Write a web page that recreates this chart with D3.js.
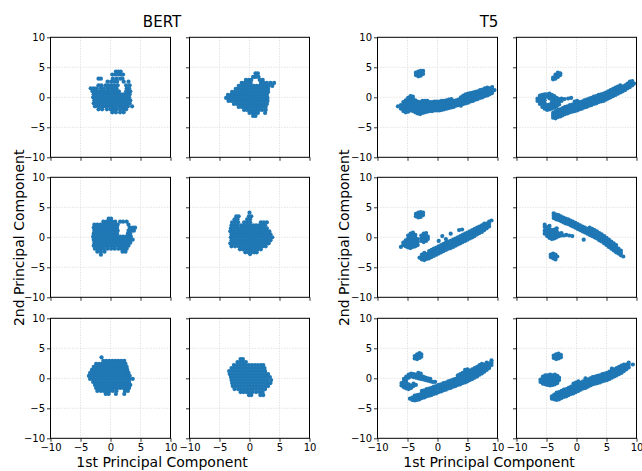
<!DOCTYPE html>
<html>
<head>
<meta charset="utf-8">
<script src="https://cdn.jsdelivr.net/npm/d3@7"></script>
<style>
  body { margin: 0; background: #fff; }
  text { font-family: "DejaVu Sans", sans-serif; }
</style>
</head>
<body>
<svg id="chart" width="642" height="471"></svg>
<script>
// axis ticks shared by every subplot
const ticks = [-10, -5, 0, 5, 10];
const groupTitles = ["BERT", "T5"];
const xLabel = "1st Principal Component";
const yLabel = "2nd Principal Component";

// BERT clouds, read row by row: [y, [x, x, ...]]
const bertL1 = [
  [4.3, [0.9, 1.3, 1.7]],
  [3.8, [0.3, 0.8, 1.3, 1.8, 2.1]],
  [3.1, [-2.0, -1.6, 0.4, 1.0, 1.6, 2.0]],
  [2.6, [-0.5, 0.1, 0.6, 1.1, 2.2, 3.0]],
  [2.0, [-2.0, -1.5, -0.8, -0.3, 0.2, 0.7, 1.2, 2.6, 3.2]],
  [1.5, [-3.3, -2.8, -2.3, -1.6, -1.1, -0.5, 0.0, 0.5, 1.0, 2.7, 3.1]],
  [1.0, [-3.0, -2.5, -2.0, -1.5, -1.0, -0.5, 0.0, 0.5, 1.0, 1.4, 2.6, 3.0, 3.3]],
  [0.5, [-2.8, -2.3, -1.8, -1.3, -0.8, -0.3, 0.2, 0.7, 1.2, 1.7, 2.2, 2.7, 3.2]],
  [0.0, [-2.9, -2.4, -1.9, -1.4, -0.9, -0.4, 0.1, 0.6, 1.1, 1.6, 2.1, 2.6, 3.1]],
  [-0.5, [-2.7, -2.2, -1.7, -1.2, -0.7, -0.2, 0.3, 0.8, 1.3, 1.8, 2.3, 2.8, 3.3]],
  [-1.0, [-2.8, -2.3, -1.8, -1.3, -0.8, -0.3, 0.2, 0.7, 1.2, 1.7, 2.2, 2.7, 3.2]],
  [-1.5, [-2.6, -2.1, -1.6, -1.1, -0.6, -0.1, 0.4, 0.9, 1.4, 1.9, 2.4, 2.9, 3.6]],
  [-2.0, [-2.0, -1.4, -0.6, 0.0, 0.5, 1.0, 1.6, 2.1, 2.6]],
  [-2.5, [0.3, 0.9, 1.6, 2.2]]
];
const bertR1 = [
  [4.0, [1.0, 1.4]],
  [3.4, [0.6, 1.0, 1.5]],
  [2.9, [-0.6, -0.1, 0.3, 1.7, 2.2]],
  [2.4, [-1.3, -0.8, -0.3, 0.2, 1.9, 2.4, 2.9, 3.5, 4.1]],
  [1.9, [-1.8, -1.3, -0.8, -0.3, 0.2, 0.7, 1.2, 1.7, 2.2, 2.7, 3.2, 3.8]],
  [1.4, [-2.3, -1.8, -1.3, -0.8, -0.3, 0.2, 0.7, 1.2, 1.7, 2.2, 2.7, 3.1]],
  [0.9, [-2.9, -2.4, -1.9, -1.4, -0.9, -0.4, 0.1, 0.6, 1.1, 1.6, 2.1, 2.6, 3.1]],
  [0.4, [-3.6, -3.1, -2.6, -2.1, -1.6, -1.1, -0.6, -0.1, 0.4, 0.9, 1.4, 1.9, 2.4, 2.9]],
  [-0.1, [-3.9, -3.4, -2.9, -2.4, -1.9, -1.4, -0.9, -0.4, 0.1, 0.6, 1.1, 1.6, 2.1, 2.6, 3.0]],
  [-0.6, [-3.5, -3.0, -2.5, -2.0, -1.5, -1.0, -0.5, 0.0, 0.5, 1.0, 1.5, 2.0, 2.5, 3.0]],
  [-1.1, [-2.6, -2.1, -1.6, -1.1, -0.6, -0.1, 0.4, 0.9, 1.4, 1.9, 2.4, 2.9]],
  [-1.6, [-1.8, -1.3, -0.8, -0.3, 0.2, 0.7, 1.2, 1.7, 2.2, 2.7]],
  [-2.1, [-0.9, -0.4, 0.1, 0.6, 1.1, 1.6, 2.1, 2.7]],
  [-2.6, [0.0, 0.5, 0.9, 1.4, 2.6]],
  [-3.1, [0.6, 1.0]]
];
const bertL2 = [
  [3.1, [-0.3, 0.1]],
  [2.6, [-1.2, -0.7, -0.2, 0.3, 0.8, 1.6, 2.1, 2.7]],
  [2.1, [-2.7, -2.2, -1.7, -1.2, -0.7, -0.2, 0.3, 0.8, 1.2, 3.0]],
  [1.6, [-2.8, -2.3, -1.8, -1.3, -0.8, -0.3, 0.2, 0.7, 1.1, 3.2, 3.7, 4.1]],
  [1.1, [-2.7, -2.2, -1.7, -1.2, -0.7, -0.2, 0.3, 0.8, 1.2, 3.0, 3.5, 3.9]],
  [0.6, [-2.8, -2.3, -1.8, -1.3, -0.8, -0.3, 0.2, 0.7, 1.1, 2.9, 3.3]],
  [0.1, [-2.9, -2.4, -1.9, -1.4, -0.9, -0.4, 0.1, 0.6, 1.1, 1.6, 2.1, 2.6, 3.0, 3.4]],
  [-0.4, [-2.8, -2.3, -1.8, -1.3, -0.8, -0.3, 0.2, 0.7, 1.2, 1.7, 2.2, 2.7, 3.2, 3.7]],
  [-0.9, [-2.7, -2.2, -1.7, -1.2, -0.7, -0.2, 0.3, 0.8, 1.3, 1.8, 2.3, 2.8, 3.3]],
  [-1.4, [-2.8, -2.3, -1.8, -1.3, -0.8, -0.3, 0.2, 0.7, 1.2, 1.7, 2.2, 2.6, 3.0]],
  [-1.9, [-2.6, -2.1, -1.6, -1.1, -0.5, 0.1, 0.7, 1.3, 1.8, 2.3, 2.7]],
  [-2.4, [-2.2, -1.6, -1.0, 2.0, 2.5]],
  [-2.9, [-1.6]]
];
const bertR2 = [
  [4.1, [0.0]],
  [3.5, [-2.2, -1.8, -0.1, 0.3]],
  [3.0, [-2.5, -2.0, -0.4, 0.1]],
  [2.5, [-2.9, -2.4, -1.9, -0.9, -0.4, 0.1, 1.9, 2.4, 2.9]],
  [2.0, [-3.0, -2.5, -2.0, -1.4, -0.9, -0.4, 0.1, 0.6, 1.1, 1.6, 2.1, 2.6]],
  [1.5, [-3.1, -2.6, -2.1, -1.6, -1.1, -0.6, -0.1, 0.4, 0.9, 1.4, 1.9, 2.4, 2.9]],
  [1.0, [-3.2, -2.7, -2.2, -1.7, -1.2, -0.7, -0.2, 0.3, 0.8, 1.3, 1.8, 2.3, 2.8, 3.3]],
  [0.5, [-3.0, -2.5, -2.0, -1.5, -1.0, -0.5, 0.0, 0.5, 1.0, 1.5, 2.0, 2.5, 3.0, 3.5]],
  [0.0, [-3.1, -2.6, -2.1, -1.6, -1.1, -0.6, -0.1, 0.4, 0.9, 1.4, 1.9, 2.4, 2.9, 3.4, 3.8]],
  [-0.5, [-3.0, -2.5, -2.0, -1.5, -1.0, -0.5, 0.0, 0.5, 1.0, 1.5, 2.0, 2.5, 3.0, 3.5]],
  [-1.0, [-3.2, -2.7, -2.2, -1.7, -1.2, -0.7, -0.2, 0.3, 0.8, 1.3, 1.8, 2.3, 2.8, 3.2]],
  [-1.5, [-3.0, -2.4, -1.8, -1.3, -0.8, -0.3, 0.2, 0.7, 1.2, 1.7, 2.2, 2.7]],
  [-2.0, [-1.6, -1.1, -0.6, -0.1, 0.4, 0.9, 1.4, 1.9]],
  [-2.5, [-0.7, -0.2, 0.3, 0.8, 1.2]],
  [-2.8, [0.1]]
];
const bertL3 = [
  [3.5, [-1.5]],
  [2.9, [-1.2, -0.7, -0.2, 0.3, 0.8, 1.3, 1.8, 2.3]],
  [2.4, [-2.4, -1.9, -1.4, -0.9, -0.4, 0.1, 0.6, 1.1, 1.6, 2.1, 2.5]],
  [1.9, [-2.8, -2.3, -1.8, -1.3, -0.8, -0.3, 0.2, 0.7, 1.2, 1.7, 2.2, 2.7]],
  [1.4, [-3.1, -2.6, -2.1, -1.6, -1.1, -0.6, -0.1, 0.4, 0.9, 1.4, 1.9, 2.4, 2.8]],
  [0.9, [-3.4, -2.9, -2.4, -1.9, -1.4, -0.9, -0.4, 0.1, 0.6, 1.1, 1.6, 2.1, 2.6, 3.0]],
  [0.4, [-3.6, -3.1, -2.6, -2.1, -1.6, -1.1, -0.6, -0.1, 0.4, 0.9, 1.4, 1.9, 2.4, 2.9, 3.2]],
  [-0.1, [-3.4, -2.9, -2.4, -1.9, -1.4, -0.9, -0.4, 0.1, 0.6, 1.1, 1.6, 2.1, 2.6, 3.1, 3.7]],
  [-0.6, [-2.9, -2.4, -1.9, -1.4, -0.9, -0.4, 0.1, 0.6, 1.1, 1.6, 2.1, 2.6, 3.1]],
  [-1.1, [-2.6, -2.1, -1.6, -1.1, -0.6, -0.1, 0.4, 0.9, 1.4, 1.9, 2.4, 2.9, 3.3]],
  [-1.6, [-2.4, -1.9, -1.4, -0.9, -0.4, 0.1, 0.6, 1.1, 1.6, 2.1, 2.6, 3.1]],
  [-2.1, [-2.2, -1.6, -1.1, -0.6, -0.1, 0.4, 1.0, 2.4, 2.9]],
  [-2.6, [-0.8, -0.3, 0.9, 2.3]]
];
const bertR3 = [
  [3.2, [-1.5, -1.1]],
  [2.7, [-2.0, -1.5, -1.0, -0.6]],
  [2.2, [-2.6, -2.1, -1.6, -1.1, -0.6, -0.1, 0.4, 0.9, 1.4, 1.9, 2.3]],
  [1.7, [-3.0, -2.5, -2.0, -1.5, -1.0, -0.5, 0.0, 0.5, 1.0, 1.5, 2.0, 2.5]],
  [1.2, [-3.4, -2.9, -2.4, -1.9, -1.4, -0.9, -0.4, 0.1, 0.6, 1.1, 1.6, 2.1, 2.6]],
  [0.7, [-3.3, -2.8, -2.3, -1.8, -1.3, -0.8, -0.3, 0.2, 0.7, 1.2, 1.7, 2.2, 2.7, 3.1]],
  [0.2, [-3.1, -2.6, -2.1, -1.6, -1.1, -0.6, -0.1, 0.4, 0.9, 1.4, 1.9, 2.4, 2.9, 3.4]],
  [-0.3, [-3.0, -2.5, -2.0, -1.5, -1.0, -0.5, 0.0, 0.5, 1.0, 1.5, 2.0, 2.5, 3.0, 3.6]],
  [-0.8, [-2.9, -2.4, -1.9, -1.4, -0.9, -0.4, 0.1, 0.6, 1.1, 1.6, 2.1, 2.6, 3.1, 3.5]],
  [-1.3, [-2.8, -2.3, -1.8, -1.3, -0.8, -0.3, 0.2, 0.7, 1.2, 1.7, 2.2, 2.7, 3.1]],
  [-1.8, [-2.5, -1.9, -1.4, -0.9, -0.4, 0.1, 0.6, 1.1, 1.6, 2.1, 2.6]],
  [-2.3, [-1.5, -1.0, -0.5, 0.0, 0.5, 1.1, 1.7, 2.2]],
  [-2.8, [-0.1, 0.3, 1.8, 2.3]]
];

// T5 clouds, read column by column: [x, [y, y, ...]]
const t5L1 = [
  [-3.6, [3.7, 4.1]], [-3.2, [3.5, 3.9, 4.3]], [-2.8, [3.6, 4.0, 4.4]], [-2.4, [3.9, 4.4]],
  [-6.6, [-1.5]], [-6.1, [-1.9, -1.3]], [-5.7, [-2.3, -1.8, -1.3, -0.8]],
  [-5.3, [-2.5, -2.0, -1.5, -1.0, -0.5]], [-4.9, [-2.4, -1.9, -1.4, -0.9, -0.4, -0.1]],
  [-4.5, [-2.2, -1.7, -1.2, -0.7, -0.2, 0.2]], [-4.1, [-2.3, -1.8, -1.3, -0.8, -0.3, 0.1]],
  [-3.7, [-2.5, -2.0, -1.5, -1.0, -0.5]], [-3.3, [-2.7, -2.2, -1.7, -1.2, -0.7]],
  [-2.9, [-2.8, -2.3, -1.8, -1.3, -0.8]], [-2.5, [-2.6, -2.1, -1.6, -1.1, -0.6]],
  [-2.1, [-2.5, -2.0, -1.5, -1.0, -0.6]], [-1.7, [-2.4, -1.9, -1.4, -0.9, -0.6]],
  [-1.3, [-2.3, -1.8, -1.3, -0.8]], [-0.9, [-2.3, -1.8, -1.3, -0.8]],
  [-0.5, [-2.2, -1.7, -1.2, -0.7]], [-0.1, [-2.2, -1.7, -1.2, -0.7]],
  [0.3, [-2.2, -1.7, -1.2, -0.7]], [0.7, [-2.1, -1.6, -1.1, -0.6]],
  [1.1, [-2.0, -1.5, -1.0, -0.6]], [1.5, [-1.9, -1.4, -0.9, -0.5]],
  [1.9, [-1.8, -1.3, -0.8, -0.4]], [2.3, [-1.7, -1.2, -0.7, -0.3]],
  [2.7, [-1.6, -1.1, -0.6]], [3.1, [-1.4, -1.0, -0.5]],
  [3.5, [-1.3, -0.9, -0.4]], [3.9, [-1.4, -1.0, -0.5, 0.0]],
  [4.3, [-1.1, -0.6, -0.1, 0.3]], [4.7, [-1.0, -0.5, 0.0, 0.5]],
  [5.1, [-0.9, -0.4, 0.1, 0.6]], [5.5, [-0.7, -0.2, 0.3, 0.7]],
  [5.9, [-0.6, -0.1, 0.4, 0.8]], [6.3, [-0.4, 0.1, 0.6, 0.9]],
  [6.7, [-0.3, 0.2, 0.7, 1.0]], [7.1, [-0.1, 0.4, 0.9, 1.2]],
  [7.5, [0.0, 0.5, 1.0, 1.3]], [7.9, [0.2, 0.7, 1.2, 1.5]],
  [8.3, [0.3, 0.8, 1.3, 1.6]], [8.7, [0.5, 1.0, 1.5]],
  [9.1, [0.7, 1.2, 1.7]], [9.5, [1.2]]
];
const t5R1 = [
  [-3.9, [3.0, 3.3]], [-3.5, [3.1, 3.5, 3.8]], [-3.1, [3.4, 3.8, 4.1]], [-2.7, [3.7, 4.0]],
  [-6.5, [-0.6, -0.2]], [-6.1, [-1.1, -0.6, -0.1, 0.3]], [-5.7, [-1.6, -1.1, -0.6, -0.1, 0.4]],
  [-5.3, [-1.9, -1.5, -1.0, -0.5, 0.0, 0.5]], [-4.9, [-2.1, -1.7, -1.3, 0.1, 0.5]],
  [-4.5, [-2.0, -1.6, -1.2, -0.2, 0.3, 0.6]], [-4.1, [-1.9, -1.4, -0.9, -0.4, 0.0, 0.4]],
  [-3.7, [-1.7, -1.2, -0.7, -0.2, 0.2]], [-3.3, [-1.5, -1.0, -0.5, -0.1]],
  [-2.9, [-1.2, -0.7, -0.3]], [-2.5, [-0.6, -0.2]], [-2.0, [-0.3]], [-1.4, [-0.2]], [-0.9, [-0.1]],
  [-3.9, [-3.4, -3.0, -2.6]], [-3.5, [-3.5, -3.1, -2.7, -2.3]],
  [-3.1, [-3.3, -2.9, -2.5, -2.1]], [-2.7, [-3.2, -2.8, -2.4, -2.0]],
  [-2.3, [-3.0, -2.6, -2.2, -1.8]], [-1.9, [-2.8, -2.4, -2.0, -1.6]],
  [-1.5, [-2.7, -2.3, -1.9, -1.5]], [-1.1, [-2.5, -2.1, -1.7, -1.3]],
  [-0.7, [-2.4, -2.0, -1.6, -1.2]], [-0.3, [-2.3, -1.9, -1.5, -1.1, -0.7]],
  [0.1, [-2.2, -1.8, -1.4, -1.0, -0.6]], [0.5, [-2.0, -1.6, -1.2, -0.8]],
  [0.9, [-1.9, -1.5, -1.1, -0.7]], [1.3, [-1.7, -1.3, -0.9, -0.5]],
  [1.7, [-1.6, -1.2, -0.8, -0.4]], [2.1, [-1.4, -1.0, -0.6, -0.2]],
  [2.5, [-1.3, -0.9, -0.5, -0.1]], [2.9, [-1.1, -0.7, -0.3, 0.1]],
  [3.3, [-1.0, -0.6, -0.2, 0.2]], [3.7, [-0.8, -0.4, 0.0, 0.4]],
  [4.1, [-0.7, -0.3, 0.1, 0.5]], [4.5, [-0.6, -0.2, 0.2, 0.6]],
  [4.9, [-0.4, 0.0, 0.4, 0.8]], [5.3, [-0.2, 0.2, 0.6, 1.0]],
  [5.7, [0.0, 0.4, 0.8, 1.2]], [6.1, [0.2, 0.6, 1.0, 1.4]],
  [6.5, [0.4, 0.8, 1.2, 1.6]], [6.9, [0.6, 1.0, 1.4, 1.8]],
  [7.3, [0.8, 1.2, 1.6, 2.0]], [7.7, [1.0, 1.4, 1.8]],
  [8.1, [1.2, 1.6, 2.0]], [8.5, [1.5, 1.9, 2.3]],
  [8.9, [1.7, 2.1, 2.6]], [9.3, [2.0, 2.4, 2.7]], [9.6, [2.3]]
];
const t5L2 = [
  [-3.6, [3.5, 3.9]], [-3.2, [3.3, 3.7, 4.1]], [-2.8, [3.4, 3.8, 4.2]], [-2.4, [3.7, 4.1]],
  [-6.1, [-1.6]], [-5.7, [-1.3, -0.9]], [-5.3, [-1.5, -1.0, -0.5]],
  [-4.9, [-1.7, -1.2, -0.7, -0.2, 0.3]], [-4.5, [-1.8, -1.3, -0.8, -0.3, 0.2, 0.6]],
  [-4.1, [-1.6, -1.1, -0.6, -0.1, 0.4, 0.8]], [-3.7, [-1.5, -1.0, -0.5, 0.0, 0.4]],
  [-3.3, [-1.3, -0.8, -0.3]],
  [-2.7, [-0.6, -0.2, 0.3]], [-2.3, [-0.8, -0.4, 0.1, 0.6]], [-1.9, [-0.6, -0.2, 0.3, 0.7]], [-1.6, [-0.3, 0.1]],
  [-3.0, [-3.4]], [-2.6, [-3.7, -3.3, -2.9]], [-2.2, [-3.8, -3.4, -3.0, -2.6]],
  [-1.8, [-3.6, -3.2, -2.8]], [-1.4, [-3.5, -3.1, -2.7, -2.3]],
  [-1.0, [-3.3, -2.9, -2.5, -2.1]], [-0.6, [-3.1, -2.7, -2.3, -1.9]],
  [-0.2, [-2.9, -2.5, -2.1, -1.7]], [0.2, [-2.7, -2.3, -1.9, -1.5, -0.6]],
  [0.6, [-2.5, -2.1, -1.7, -1.3]], [0.8, [0.2]], [1.0, [-2.3, -1.9, -1.5, -1.1]],
  [1.4, [-2.1, -1.7, -1.3, -0.9, -0.3]], [1.8, [-1.9, -1.5, -1.1, -0.7]],
  [2.2, [-1.8, -1.4, -1.0, -0.6, 0.6]], [2.6, [-1.6, -1.2, -0.8, -0.4]],
  [3.0, [-1.4, -1.0, -0.6, -0.2]], [3.4, [-1.2, -0.8, -0.4, 0.0]],
  [3.6, [1.2]], [3.8, [-1.0, -0.6, -0.2, 0.2]], [4.1, [1.3]],
  [4.2, [-0.8, -0.4, 0.0, 0.4]], [4.6, [-0.6, -0.2, 0.2, 0.6]],
  [5.0, [-0.4, 0.0, 0.4, 0.8]], [5.4, [-0.2, 0.2, 0.6, 1.0]],
  [5.8, [0.0, 0.4, 0.8, 1.2]], [6.2, [0.2, 0.6, 1.0, 1.4]],
  [6.6, [0.5, 0.9, 1.3, 1.6]], [7.0, [0.7, 1.1, 1.5, 1.8]],
  [7.4, [0.9, 1.3, 1.7, 2.0]], [7.8, [1.2, 1.6, 2.0, 2.3]],
  [8.2, [1.5, 1.9, 2.3]], [8.6, [1.8, 2.2, 2.6]], [9.0, [2.8]]
];
const t5R2 = [
  [-5.3, [0.6, 1.1, 1.7, 2.1]], [-4.9, [0.2, 0.7, 1.2, 1.7]],
  [-4.5, [-0.1, 0.4, 0.9, 1.4, 1.9]], [-4.1, [-0.3, 0.2, 0.7, 1.2]],
  [-3.7, [-0.2, 0.3, 0.8, 1.3]], [-3.3, [0.0, 0.5, 1.0, 1.5]],
  [-2.9, [0.2, 0.6]], [-2.5, [0.3, 0.7]], [-2.1, [0.3]], [-1.7, [0.4]],
  [-1.2, [0.3]], [-0.7, [0.2]], [1.2, [-0.4]],
  [-4.3, [-2.9, -3.3]], [-3.9, [-2.7, -3.1, -3.5]], [-3.5, [-2.9, -3.3, -3.7]], [-3.2, [-3.2]],
  [-3.8, [3.2, 3.6, 4.0]], [-3.4, [3.0, 3.4, 3.8]], [-3.0, [2.9, 3.3, 3.7]],
  [-2.6, [2.7, 3.1, 3.5]], [-2.2, [2.5, 2.9, 3.3]], [-1.8, [2.3, 2.7, 3.1]],
  [-1.4, [2.2, 2.6, 3.0]], [-1.0, [2.0, 2.4, 2.8]], [-0.6, [1.8, 2.2, 2.6]],
  [-0.2, [1.6, 2.0, 2.4]], [0.2, [1.4, 1.8, 2.2]], [0.6, [1.2, 1.6, 2.0]],
  [1.0, [1.0, 1.4, 1.8]], [1.4, [0.8, 1.2, 1.6]], [1.8, [0.6, 1.0, 1.4]],
  [2.2, [0.4, 0.8, 1.2, 1.6]], [2.6, [0.2, 0.6, 1.0, 1.4]],
  [3.0, [0.0, 0.4, 0.8, 1.2]], [3.4, [-0.2, 0.2, 0.6, 1.0]],
  [3.8, [-0.5, -0.1, 0.3, 0.7]], [4.2, [-0.7, -0.3, 0.1, 0.5]],
  [4.6, [-1.0, -0.6, -0.2, 0.2]], [5.0, [-1.3, -0.9, -0.5, -0.1]],
  [5.4, [-1.6, -1.2, -0.8, -0.4]], [5.8, [-1.9, -1.5, -1.1, -0.7]],
  [6.2, [-2.2, -1.8, -1.4, -1.0]], [6.6, [-2.5, -2.1, -1.7, -1.3]],
  [7.0, [-2.7, -2.3, -1.9]], [7.4, [-3.0, -2.6, -2.2]], [7.8, [-3.2]]
];
const t5L3 = [
  [-3.8, [3.3, 3.7]], [-3.4, [3.2, 3.6, 4.0]], [-3.0, [3.4, 3.8, 4.2]], [-2.7, [3.6, 4.0]],
  [-6.0, [-1.2, -0.8]], [-5.6, [-1.5, -1.0, -0.5, -0.1]], [-5.2, [-1.7, -1.2, -0.7, -0.2, 0.3]],
  [-4.8, [-1.8, -1.4, -1.0, 0.1, 0.6]], [-4.4, [-1.6, -1.2, 0.3, 0.8]], [-4.0, [-1.3, -0.9, 0.2, 0.7]],
  [-3.6, [-1.1, 0.1, 0.6]], [-3.2, [0.0, 0.5, 0.9]], [-2.8, [-0.1, 0.4, 0.8]],
  [-2.4, [-0.2, 0.3]], [-2.0, [-0.3, 0.1]], [-1.6, [-0.4, 0.0]], [-1.2, [-0.5, -0.1]],
  [-0.8, [-0.6]], [-0.4, [-0.6]],
  [-4.6, [-3.4]], [-4.2, [-3.6, -3.2]], [-3.8, [-3.7, -3.3, -2.9]],
  [-3.4, [-3.6, -3.2, -2.8]], [-3.0, [-3.5, -3.1, -2.7]],
  [-2.6, [-3.3, -2.9, -2.5, -2.1]], [-2.2, [-3.2, -2.8, -2.4, -2.0]],
  [-1.8, [-3.0, -2.6, -2.2, -1.8]], [-1.4, [-2.9, -2.5, -2.1, -1.7]],
  [-1.0, [-2.8, -2.4, -2.0, -1.6]], [-0.6, [-2.6, -2.2, -1.8, -1.4]],
  [-0.2, [-2.5, -2.1, -1.7, -1.3]], [0.2, [-2.3, -1.9, -1.5, -1.1]],
  [0.6, [-2.2, -1.8, -1.4, -1.0]], [1.0, [-2.0, -1.6, -1.2, -0.8]],
  [1.4, [-1.9, -1.5, -1.1, -0.7]], [1.8, [-1.7, -1.3, -0.9, -0.5]],
  [2.2, [-1.6, -1.2, -0.8, -0.4]], [2.6, [-1.4, -1.0, -0.6, -0.2]],
  [3.0, [-1.3, -0.9, -0.5, -0.1]], [3.4, [-1.1, -0.7, -0.3, 0.1, 0.5]],
  [3.8, [-1.0, -0.6, -0.2, 0.2, 0.7]], [4.2, [-0.8, -0.4, 0.0, 0.4, 0.9]],
  [4.6, [-0.7, -0.3, 0.1, 0.5, 1.0, 1.4]], [5.0, [-0.5, -0.1, 0.3, 0.7, 1.1, 1.5]],
  [5.4, [-0.3, 0.1, 0.5, 0.9, 1.3]], [5.8, [-0.1, 0.3, 0.7, 1.1, 1.5]],
  [6.2, [0.1, 0.5, 0.9, 1.3, 1.7]], [6.6, [0.3, 0.7, 1.1, 1.5, 1.9]],
  [7.0, [0.6, 1.0, 1.4, 1.8, 2.2]], [7.4, [0.8, 1.2, 1.6, 2.0, 2.4]],
  [7.8, [1.1, 1.5, 1.9, 2.3]], [8.2, [1.4, 1.8, 2.2, 2.6]],
  [8.6, [1.7, 2.1, 2.5]], [9.0, [2.2, 2.6, 3.0]]
];
const t5R3 = [
  [-3.8, [3.4, 3.8]], [-3.4, [3.2, 3.6, 4.0]], [-3.0, [3.3, 3.7, 4.1]], [-2.6, [3.5, 3.9]],
  [-6.0, [-0.6, -0.2]], [-5.6, [-0.9, -0.5, -0.1, 0.3]], [-5.2, [-1.0, -0.6, -0.2, 0.2, 0.5]],
  [-4.8, [-1.1, -0.7, -0.3, 0.1, 0.5]], [-4.4, [-1.2, -0.8, -0.4, 0.0, 0.4, 0.6]],
  [-4.0, [-1.1, -0.7, -0.3, 0.1, 0.5]], [-3.6, [-1.0, -0.6, -0.2, 0.2, 0.6]],
  [-3.2, [-0.8, -0.4, 0.0, 0.4]], [-2.9, [-0.3, 0.1]],
  [-4.1, [-3.4, -3.0]], [-3.7, [-3.5, -3.1, -2.7]], [-3.3, [-3.6, -3.2, -2.8, -2.4]],
  [-2.9, [-3.5, -3.1, -2.7, -2.3]], [-2.5, [-3.3, -2.9, -2.5, -2.1]],
  [-2.1, [-3.1, -2.7, -2.3, -1.9]], [-1.7, [-3.0, -2.6, -2.2, -1.8]],
  [-1.3, [-2.8, -2.4, -2.0, -1.6]], [-0.9, [-2.6, -2.2, -1.8, -1.4]],
  [-0.5, [-2.5, -2.1, -1.7, -1.3, -0.9]], [-0.1, [-2.3, -1.9, -1.5, -1.1, -0.7]],
  [0.3, [-2.1, -1.7, -1.3, -0.9, -0.5]], [0.7, [-1.9, -1.5, -1.1, -0.7]],
  [1.1, [-1.7, -1.3, -0.9, -0.5]], [1.5, [-1.6, -1.2, -0.8, -0.4, 0.0]],
  [1.9, [-1.4, -1.0, -0.6, -0.2]], [2.3, [-1.2, -0.8, -0.4, 0.0]],
  [2.7, [-1.0, -0.6, -0.2, 0.2]], [3.1, [-0.9, -0.5, -0.1, 0.3]],
  [3.5, [-0.8, -0.4, 0.0, 0.4]], [3.9, [-0.7, -0.3, 0.1, 0.5]],
  [4.3, [-0.5, -0.1, 0.3, 0.7]], [4.7, [-0.4, 0.0, 0.4, 0.8]],
  [5.1, [-0.3, 0.1, 0.5, 0.9]], [5.5, [-0.1, 0.3, 0.7, 1.1]],
  [5.9, [0.1, 0.5, 0.9, 1.3, 1.6]], [6.3, [0.3, 0.7, 1.1, 1.5]],
  [6.7, [0.5, 0.9, 1.3, 1.7]], [7.1, [0.7, 1.1, 1.5, 1.9]],
  [7.5, [0.9, 1.3, 1.7, 2.1]], [7.9, [1.2, 1.6, 2.0, 2.3]],
  [8.3, [1.5, 1.9, 2.3]], [8.7, [1.8, 2.2, 2.6]], [9.4, [2.3]]
];

// which cloud goes where: group 0 = BERT (rows), group 1 = T5 (columns)
const panels = [
  { group: 0, row: 0, col: 0, rows: bertL1 }, { group: 0, row: 0, col: 1, rows: bertR1 },
  { group: 0, row: 1, col: 0, rows: bertL2 }, { group: 0, row: 1, col: 1, rows: bertR2 },
  { group: 0, row: 2, col: 0, rows: bertL3 }, { group: 0, row: 2, col: 1, rows: bertR3 },
  { group: 1, row: 0, col: 0, cols: t5L1 }, { group: 1, row: 0, col: 1, cols: t5R1 },
  { group: 1, row: 1, col: 0, cols: t5L2 }, { group: 1, row: 1, col: 1, cols: t5R2 },
  { group: 1, row: 2, col: 0, cols: t5L3 }, { group: 1, row: 2, col: 1, cols: t5R3 }
];

const size = 120;
const groupLeft = [50.5, 377.5];
const colStep = 139;
const rowTop = [37.3, 177.3, 318.3];
const groupCenter = [162, 489];
const yLabelX = [24, 348.5];
const COLOR = "#1f77b4";

const svg = d3.select("#chart");
const x = d3.scaleLinear().domain([-10, 10]).range([0, size]);
const y = d3.scaleLinear().domain([-10, 10]).range([size, 0]);
const fmt = d3.format("d");

panels.forEach(function (p) {
  const pts = p.rows
    ? p.rows.flatMap(function (r) { return r[1].map(function (v) { return [v, r[0]]; }); })
    : p.cols.flatMap(function (c) { return c[1].map(function (v) { return [c[0], v]; }); });

  const g = svg.append("g")
    .attr("transform", "translate(" + (groupLeft[p.group] + p.col * colStep) + "," + rowTop[p.row] + ")");

  // light grid
  const grid = g.append("g").attr("stroke", "#d8d8d8").attr("stroke-width", 0.7)
    .attr("stroke-dasharray", "1.5,1.2");
  grid.selectAll("line.v").data(ticks.slice(1, -1)).enter().append("line")
    .attr("x1", x).attr("x2", x).attr("y1", 0).attr("y2", size);
  grid.selectAll("line.h").data(ticks.slice(1, -1)).enter().append("line")
    .attr("y1", y).attr("y2", y).attr("x1", 0).attr("x2", size);

  g.append("g").selectAll("circle").data(pts).enter().append("circle")
    .attr("cx", function (d) { return x(d[0]); })
    .attr("cy", function (d) { return y(d[1]); })
    .attr("r", 2.1)
    .attr("fill", COLOR);

  const left = g.append("g")
    .call(d3.axisLeft(y).tickValues(ticks).tickSize(3.5).tickPadding(2)
      .tickFormat(p.col === 0 ? fmt : ""));
  const bottom = g.append("g").attr("transform", "translate(0," + size + ")")
    .call(d3.axisBottom(x).tickValues(ticks).tickSize(3.5).tickPadding(2.5)
      .tickFormat(p.row === 2 ? fmt : ""));
  [left, bottom].forEach(function (a) {
    a.select(".domain").remove();
    a.selectAll("line").attr("stroke", "#000").attr("stroke-width", 0.8);
    a.selectAll("text").attr("font-size", 10).attr("fill", "#000")
      .attr("font-family", "DejaVu Sans, sans-serif");
  });

  g.append("rect").attr("width", size).attr("height", size)
    .attr("fill", "none").attr("stroke", "#000").attr("stroke-width", 1);
});

groupTitles.forEach(function (t, i) {
  svg.append("text").attr("x", groupCenter[i]).attr("y", 27)
    .attr("text-anchor", "middle").attr("font-size", 15).text(t);
  svg.append("text").attr("x", groupCenter[i]).attr("y", 467)
    .attr("text-anchor", "middle").attr("font-size", 14).text(xLabel);
  svg.append("text")
    .attr("transform", "translate(" + yLabelX[i] + "," + ((rowTop[0] + rowTop[2] + size) / 2) + ") rotate(-90)")
    .attr("text-anchor", "middle").attr("font-size", 14).text(yLabel);
});
</script>
</body>
</html>
